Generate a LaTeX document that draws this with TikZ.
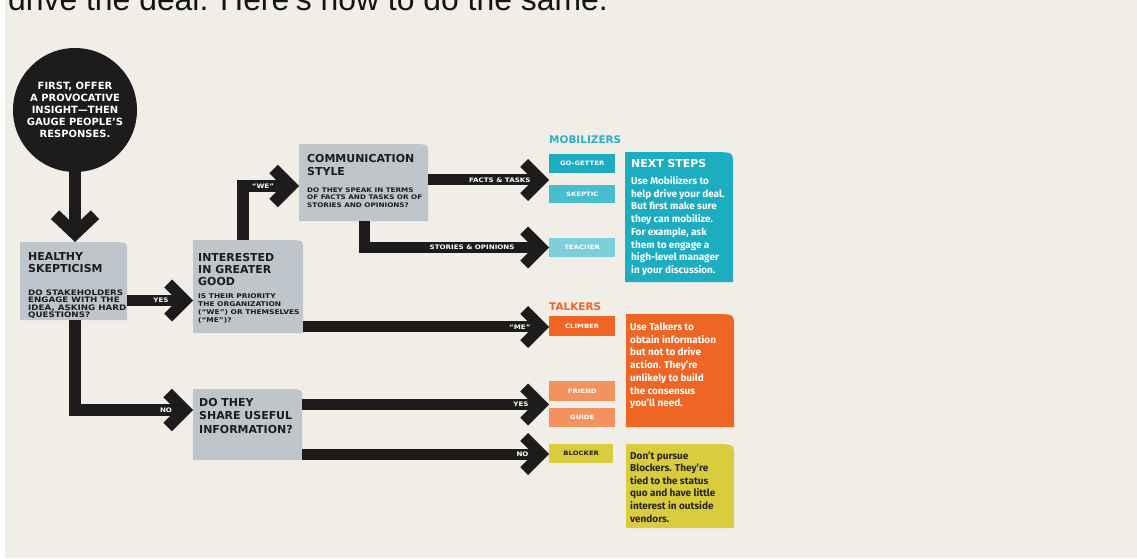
\documentclass[tikz,border=0pt]{standalone}
\usepackage{fontspec}
\setmainfont{DejaVu Sans}
\newfontfamily\hdrfont{Liberation Sans}
\newfontfamily\widefont{DejaVu Sans}[FakeStretch=1.15]
\newfontfamily\bodyfont{Fira Sans}
\usetikzlibrary{arrows.meta}
\definecolor{bg}{RGB}{241,238,232}
\definecolor{ink}{RGB}{30,27,28}
\definecolor{greyb}{RGB}{190,197,203}
\definecolor{tealA}{RGB}{29,173,193}
\definecolor{tealB}{RGB}{72,189,203}
\definecolor{tealC}{RGB}{124,207,218}
\definecolor{tealH}{RGB}{42,175,197}
\definecolor{orA}{RGB}{238,101,36}
\definecolor{orB}{RGB}{243,146,95}
\definecolor{yel}{RGB}{217,204,62}
\definecolor{dark}{RGB}{40,36,30}
\tikzset{
  rbox/.style 2 args={inner sep=0, anchor=north west,
    path picture={\fill[#1] (path picture bounding box.south west) -- (path picture bounding box.north west)
      -- ([xshift=-#2]path picture bounding box.north east) .. controls (path picture bounding box.north east) .. ([yshift=-#2]path picture bounding box.north east)
      -- (path picture bounding box.south east) -- cycle;}},
  ttl/.style={anchor=base west, inner sep=0, align=left, text=ink, font=\fontsize{11}{13}\selectfont\bfseries},
  qtx/.style={anchor=base west, inner sep=0, align=left, text=ink, font=\widefont\fontsize{6.3}{7.6}\selectfont\bfseries},
  tag/.style={anchor=north west, inner sep=0, minimum width=66bp, text=white, font=\widefont\fontsize{6}{7}\selectfont\bfseries},
  lab/.style={anchor=east, inner sep=0, text=white, font=\widefont\fontsize{6.2}{7}\selectfont\bfseries},
  body/.style={anchor=base west, inner sep=0, align=left, text=white, font=\bodyfont\fontsize{10}{12.8}\selectfont\bfseries},
  grp/.style={anchor=base west, inner sep=0, font=\fontsize{10.5}{12}\selectfont\bfseries},
  arr/.style={draw=ink, line width=11bp, -{Straight Barb[length=17bp, width=34bp]}},
  circ/.style={circle, fill=ink, minimum size=124bp, inner sep=0, align=center, text=white, font=\fontsize{10}{12.2}\selectfont\bfseries}
}
\begin{document}
\begin{tikzpicture}[x=1bp,y=-1bp]
\useasboundingbox (0,0) rectangle (1137,559);
\fill[white] (0,0) rectangle (1137,559);
\fill[bg] (5,0) rectangle (1137,558);
\node[anchor=base west, inner sep=0, font=\hdrfont\fontsize{32}{32}\selectfont, text=black!92] (hdr) at (8,10.5) {drive the deal. Here’s how to do the same.};

% start circle
\node[circ] (c0) at (75,110) {FIRST, OFFER\\A PROVOCATIVE\\INSIGHT—THEN\\GAUGE PEOPLE’S\\RESPONSES.};

% grey question boxes
\node[rbox={greyb}{12bp}, minimum width=107bp, minimum height=78bp] (hs) at (20,242) {};
\node[rbox={greyb}{12bp}, minimum width=110bp, minimum height=93bp] (ig) at (193,240) {};
\node[rbox={greyb}{12bp}, minimum width=129bp, minimum height=77bp] (cs) at (299,144) {};
\node[rbox={greyb}{12bp}, minimum width=109bp, minimum height=71bp] (sh) at (193,389) {};

% texts: anchor is the baseline of the LAST line
\node[ttl] (hsT) at (28,273) {HEALTHY\\SKEPTICISM};
\node[qtx, font=\widefont\fontsize{7.6}{7.5}\selectfont\bfseries] (hsQ) at (28,317.5) {DO STAKEHOLDERS\\ENGAGE WITH THE\\IDEA, ASKING HARD\\QUESTIONS?};
\node[ttl, font=\fontsize{11}{12.3}\selectfont\bfseries] (igT) at (198,285.6) {INTERESTED\\IN GREATER\\GOOD};
\node[qtx, font=\widefont\fontsize{6.5}{8.2}\selectfont\bfseries] (igQ) at (198,322.6) {IS THEIR PRIORITY\\THE ORGANIZATION\\(“WE”) OR THEMSELVES\\(“ME”)?};
\node[ttl] (csT) at (307,175.5) {COMMUNICATION\\STYLE};
\node[qtx] (csQ) at (307,207.2) {DO THEY SPEAK IN TERMS\\OF FACTS AND TASKS OR OF\\STORIES AND OPINIONS?};
\node[ttl, font=\fontsize{11}{13.5}\selectfont\bfseries] (shT) at (199,433) {DO THEY\\SHARE USEFUL\\INFORMATION?};

% group headers
\node[grp, text=tealH] (mob) at (549,144) {MOBILIZERS};
\node[grp, text=orA] (tlk) at (549,311) {TALKERS};

% type tags
\node[tag, fill=tealA, minimum height=19bp] (gg) at (549,154) {GO-GETTER};
\node[tag, fill=tealB, minimum height=18bp] (sk) at (549,185) {SKEPTIC};
\node[tag, fill=tealC, minimum height=19bp] (te) at (549,238) {TEACHER};
\node[tag, fill=orA, minimum height=20bp] (cl) at (549,316) {CLIMBER};
\node[tag, fill=orB, minimum height=20bp] (fr) at (549,381) {FRIEND};
\node[tag, fill=orB, minimum height=19bp] (gu) at (549,408) {GUIDE};
\node[tag, fill=yel, minimum height=19bp, minimum width=64bp, text=dark] (bl) at (549,444) {BLOCKER};

% advice boxes
\node[rbox={tealA}{16bp}, minimum width=108bp, minimum height=130bp] (ns) at (625,152) {};
\node[rbox={orA}{16bp}, minimum width=108bp, minimum height=113bp] (tk) at (626,314) {};
\node[rbox={yel}{16bp}, minimum width=108bp, minimum height=84bp] (bk) at (626,444) {};
\node[anchor=base west, inner sep=0, text=white, font=\fontsize{11}{12}\selectfont\bfseries] (nsT) at (631,168) {NEXT STEPS};
\node[body] (nsB) at (631,273.6) {Use Mobilizers to\\help drive your deal.\\But first make sure\\they can mobilize.\\For example, ask\\them to engage a\\high-level manager\\in your discussion.};
\node[body] (tkB) at (630,406.8) {Use Talkers to\\obtain information\\but not to drive\\action. They’re\\unlikely to build\\the consensus\\you’ll need.};
\node[body, text=dark, font=\bodyfont\fontsize{10}{12.6}\selectfont\bfseries] (bkB) at (630,522) {Don’t pursue\\Blockers. They’re\\tied to the status\\quo and have little\\interest in outside\\vendors.};

% helper coordinates
\coordinate (yA) at (0,300.5);
\coordinate (yB) at (0,410);
\coordinate (xW) at (243,0);
\coordinate (yW) at (0,186);
\coordinate (yF) at (0,180);
\coordinate (xS) at (364,0);
\coordinate (yS) at (0,247.5);
\coordinate (yM) at (0,327);
\coordinate (yY) at (0,404.5);
\coordinate (yN) at (0,454);

% connectors
\draw[arr, line width=12bp, -{Straight Barb[length=19bp, width=40bp]}] ([yshift=3bp]c0.south) -- (c0.south |- hs.north);
\draw[arr] (hs.east |- yA) -- node[lab, at end, xshift=-19bp] {YES} (ig.west |- yA);
\draw[arr, line width=12bp] (c0.south |- hs.south) |- node[lab, at end, xshift=-15bp] {NO} (sh.west |- yB);
\draw[arr, line width=12bp] (xW |- ig.north) |- node[lab, at end, xshift=-19bp] {“WE”} (cs.west |- yW);
\draw[arr] (cs.east |- yF) -- node[lab, at end, xshift=-13bp] {FACTS \& TASKS} (gg.west |- yF);
\draw[arr] (xS |- cs.south) |- node[lab, at end, xshift=-29bp] {STORIES \& OPINIONS} (te.west |- yS);
\draw[arr] (ig.east |- yM) -- node[lab, at end, xshift=-13bp] {“ME”} (cl.west |- yM);
\draw[arr] (sh.east |- yY) -- node[lab, at end, xshift=-15bp] {YES} (fr.west |- yY);
\draw[arr] (sh.east |- yN) -- node[lab, at end, xshift=-15bp] {NO} (bl.west |- yN);
\end{tikzpicture}
\end{document}
